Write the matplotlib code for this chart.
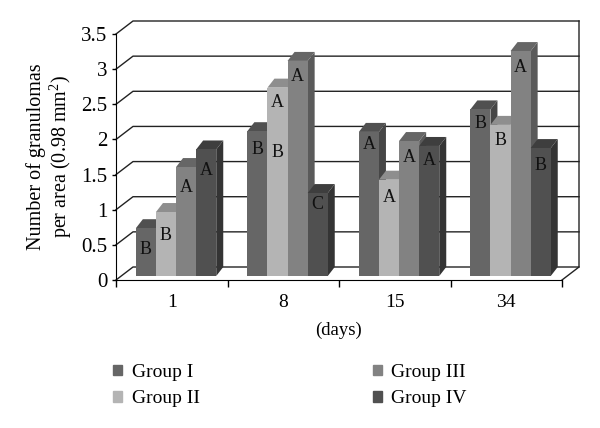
#!/usr/bin/env python3
"""Grouped pseudo-3D bars of granuloma counts per group and day."""

import matplotlib

matplotlib.use("Agg")
import matplotlib.pyplot as plt
from matplotlib.patches import Patch, Polygon

days = ["1", "8", "15", "34"]
groups = ["Group I", "Group II", "Group III", "Group IV"]

group_1 = [0.68, 2.06, 2.05, 2.37]
group_2 = [0.91, 2.68, 1.37, 2.15]
group_3 = [1.55, 3.06, 1.92, 3.20]
group_4 = [1.80, 1.18, 1.85, 1.82]

letters_1 = ["B", "B", "A", "B"]
letters_2 = ["B", "A", "A", "B"]
letters_3 = ["A", "A", "A", "A"]
letters_4 = ["A", "C", "A", "B"]

letter_y_1 = [0.44, 1.85, 1.93, 2.22]
letter_y_2 = [0.64, 2.52, 1.18, 1.98]
letter_y_3 = [1.31, 2.89, 1.74, 3.03]
letter_y_4 = [1.56, 1.08, 1.70, 1.63]

y_ticks = [0, 0.5, 1, 1.5, 2, 2.5, 3, 3.5]
y_tick_labels = ["0", "0.5", "1", "1.5", "2", "2.5", "3", "3.5"]

front_colors = ["#666666", "#b4b4b4", "#828282", "#505050"]
top_colors = ["#505050", "#8e8e8e", "#666666", "#3e3e3e"]
side_colors = ["#464646", "#7c7c7c", "#5a5a5a", "#343434"]

plt.rcParams["font.family"] = ["Liberation Serif", "DejaVu Serif"]
plt.rcParams["mathtext.default"] = "regular"

PX_X = 446 / 4  # pixels per category
PX_Y = 246 / 3.5  # pixels per unit
WALL_X, WALL_Y = 17 / PX_X, 13 / PX_Y
FLOOR_X, FLOOR_Y = 4.3 / PX_X, 4 / PX_Y
DEPTH_X, DEPTH_Y = 7 / PX_X, 9 / PX_Y
BAR_W = 20.1 / PX_X


def draw_bar(ax, x, value, i, z):
    left = x + FLOOR_X - 2 * BAR_W + i * BAR_W
    right = left + BAR_W
    base = FLOOR_Y
    top = FLOOR_Y + value
    side = [(right, base), (right + DEPTH_X, base + DEPTH_Y),
            (right + DEPTH_X, top + DEPTH_Y), (right, top)]
    roof = [(left, top), (left + DEPTH_X, top + DEPTH_Y),
            (right + DEPTH_X, top + DEPTH_Y), (right, top)]
    ax.add_patch(Polygon(side, fc=side_colors[i], ec="none", zorder=z, clip_on=False))
    ax.add_patch(Polygon(roof, fc=top_colors[i], ec="none", zorder=z, clip_on=False))
    ax.bar(left, value, BAR_W, bottom=base, align="edge", color=front_colors[i],
           zorder=z + 0.1, clip_on=False)


def main():
    fig = plt.figure(figsize=(6.0, 4.28), dpi=100)
    ax = fig.add_axes([116 / 600, 148 / 428, 446 / 600, 246 / 428])
    ax.set_xlim(-0.5, 3.5)
    ax.set_ylim(0, 3.5)

    # back wall and floor
    for v in y_ticks:
        ax.plot([-0.5, -0.5 + WALL_X, 3.5 + WALL_X], [v, v + WALL_Y, v + WALL_Y],
                color="#222222", lw=1.0, zorder=1, clip_on=False)
    ax.plot([3.5, 3.5 + WALL_X, 3.5 + WALL_X], [0, WALL_Y, 3.5 + WALL_Y],
            color="#222222", lw=1.0, zorder=1, clip_on=False)

    series = [group_1, group_2, group_3, group_4]
    letters = [letters_1, letters_2, letters_3, letters_4]
    letter_y = [letter_y_1, letter_y_2, letter_y_3, letter_y_4]
    z = 2
    for j in range(len(days)):
        for i in range(len(groups)):
            draw_bar(ax, j, series[i][j], i, z)
            z += 1
    for i in range(len(groups)):
        for j in range(len(days)):
            x = j + FLOOR_X - 1.5 * BAR_W + i * BAR_W
            ax.text(x, letter_y[i][j], letters[i][j], ha="center",
                    va="center", fontsize=13, color="#111111", zorder=100)
    # second letter on the Group II bar at day 8
    ax.text(1 + FLOOR_X - 0.5 * BAR_W, 1.82, "B", ha="center", va="center",
            fontsize=13, color="#111111", zorder=100)

    for name in ["top", "right"]:
        ax.spines[name].set_visible(False)
    ax.patch.set_visible(False)
    ax.set_xticks([-0.5, 0.5, 1.5, 2.5, 3.5])
    ax.set_xticklabels([])
    ax.set_xticks(range(4), days, minor=True)
    ax.tick_params(axis="x", which="major", length=5, width=1)
    ax.tick_params(axis="x", which="minor", length=0, labelsize=14, pad=10)
    ax.set_yticks(y_ticks, y_tick_labels)
    ax.tick_params(axis="y", length=3, width=1, labelsize=15, pad=3)
    ax.set_xlabel("(days)", fontsize=13.5, labelpad=8)
    ax.set_ylabel("Number of granulomas\nper area (0.98 mm$^{2}$)", fontsize=14.5,
                  labelpad=5, linespacing=1.1)

    handles = [Patch(color=c, label=g) for c, g in zip(front_colors, groups)]
    fig.legend(handles=handles, ncol=2, frameon=False, fontsize=14,
               loc="upper left", bbox_to_anchor=(113 / 600, 1 - 364 / 428),
               bbox_transform=fig.transFigure, handlelength=0.46, handleheight=0.46,
               handletextpad=0.5, columnspacing=8.9, labelspacing=0.48,
               borderpad=0, borderaxespad=0)

    fig.savefig("out.png", dpi=100)


if __name__ == "__main__":
    main()
